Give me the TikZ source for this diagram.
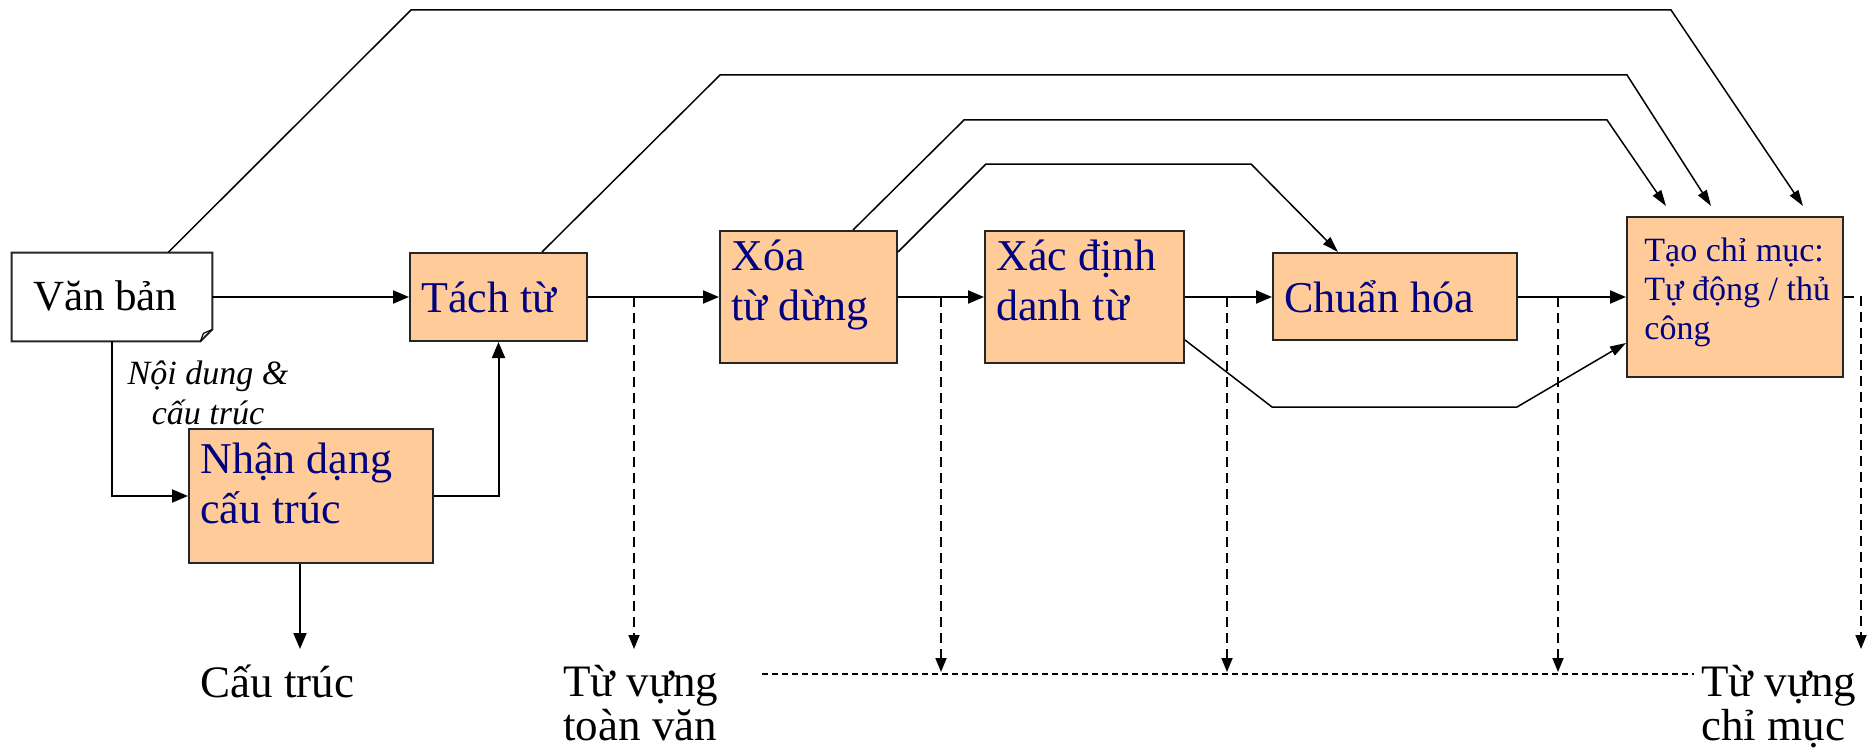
\documentclass[tikz,border=0pt]{standalone}
\usepackage{fontspec}
\setmainfont{Liberation Serif}
\usetikzlibrary{calc,positioning,arrows.meta}
\definecolor{procfill}{HTML}{FFCC99}
\definecolor{procnavy}{HTML}{000080}

\tikzset{
  procbox/.style={draw=black!85, line width=1pt, fill=procfill, inner sep=0pt},
  proctext/.style={anchor=north west, align=left, inner sep=0pt, text=procnavy,
    font=\fontsize{22}{25}\selectfont},
  outlabel/.style={anchor=north west, align=left, inner sep=0pt,
    font=\fontsize{22.5}{22}\selectfont},
  flow/.style={line width=1pt, -{Triangle[length=8pt,width=6.5pt]}},
  longflow/.style={line width=0.75pt, -{Triangle[length=8pt,width=5pt]}},
  tapline/.style={line width=0.9pt, dash pattern=on 5pt off 3pt,
    -{Triangle[length=7pt,width=5.5pt]}},
  busline/.style={line width=0.7pt, dash pattern=on 3pt off 2pt},
}

\begin{document}
\begin{tikzpicture}[x=0.5pt, y=-0.5pt]
  \useasboundingbox (0,0) rectangle (1868,749);

  % input document
  \node[minimum width=100pt, minimum height=44pt, inner sep=0pt] (vanban) at (112,297) {};
  \draw[line width=1pt, draw=black!85, fill=white] (vanban.north west) -- (vanban.north east)
    -- ($(vanban.south east)+(0,-12)$) -- ($(vanban.south east)+(-12,0)$)
    -- (vanban.south west) -- cycle;
  \draw[line width=0.6pt] ($(vanban.south east)+(-12,0)$) -- ($(vanban.south east)+(-9,-8)$)
    -- ($(vanban.south east)+(0,-12)$);
  \node[anchor=base west, inner sep=0pt, font=\fontsize{21.5}{25}\selectfont]
    (vanbanlbl) at ($(vanban.west)+(21,13)$) {Văn bản};

  % processing steps
  \node[procbox, minimum width=88.5pt, minimum height=44pt] (tach) at (498.5,297) {};
  \node[procbox, minimum width=122pt, minimum height=67pt] (nhandang) at (311,496) {};
  \node[procbox, minimum width=88.5pt, minimum height=66pt] (xoa) at (808.5,297) {};
  \node[procbox, minimum width=99.5pt, minimum height=66pt] (xacdinh) at (1084.5,297) {};
  \node[procbox, minimum width=122pt, minimum height=43.5pt] (chuan) at (1395,296.5) {};
  \node[procbox, minimum width=108pt, minimum height=80pt] (taochi) at (1735,297) {};

  \node[proctext, anchor=base west] (tachlbl) at ($(tach.west)+(12,15)$) {Tách từ};
  \node[proctext] (nhandanglbl) at ($(nhandang.north west)+(12,14)$) {Nhận dạng\\cấu trúc};
  \node[proctext] (xoalbl) at ($(xoa.north west)+(12,10)$) {Xóa\\từ dừng};
  \node[proctext] (xacdinhlbl) at ($(xacdinh.north west)+(12,10)$) {Xác định\\danh từ};
  \node[proctext, anchor=base west] (chuanlbl) at ($(chuan.west)+(12,15.5)$) {Chuẩn hóa};
  \node[proctext, font=\fontsize{17}{19.5}\selectfont] (taochilbl)
    at ($(taochi.north west)+(18,22)$) {Tạo chỉ mục:\\Tự động / thủ\\công};

  \node[align=center, inner sep=0pt, font=\itshape\fontsize{17}{20}\selectfont]
    (noidung) at (208,393) {Nội dung \&\\cấu trúc};

  % outputs
  \node[outlabel] (cautruc) at (200,665) {Cấu trúc};
  \node[outlabel] (toanvan) at (563,665) {Từ vựng\\toàn văn};
  \node[outlabel] (chimuc) at (1701,665) {Từ vựng\\chỉ mục};

  % main flow
  \draw[flow] (vanban.east) -- (tach.west);
  \draw[flow] (tach) -- (xoa);
  \draw[flow] (xoa) -- (xacdinh);
  \draw[flow] (xacdinh.east) -- (xacdinh.east -| chuan.west);
  \draw[flow] (chuan.east |- taochi.west) -- (taochi.west);
  \draw[flow] (vanban.south) |- (nhandang.west);
  \draw[flow] (nhandang.east) -| (tach.south);
  \coordinate (cauend) at (300,649);
  \draw[flow] (nhandang.south -| cauend) -- (cauend);

  % bypass lines
  \draw[longflow] (vanban.north -| 168,0) -- (411,10) -- (1671,10)
    -- ($(taochi.north)+(68,-10)$);
  \draw[longflow] (tach.north -| 542,0) -- (720,75) -- (1627,75)
    -- ($(taochi.north)+(-24,-10)$);
  \draw[longflow] (xoa.north -| 853,0) -- (964,120) -- (1607,120)
    -- ($(taochi.north)+(-69,-10)$);
  \draw[longflow] (xoa.east |- 0,252) -- (986,164) -- (1251,164) -- (chuan.north -| 1338,0);
  \draw[longflow] (xacdinh.east |- 0,340) -- (1272,407) -- (1517,407)
    -- (taochi.west |- 0,343);

  % vocabulary taps
  \coordinate (tap1) at (634,297);
  \coordinate (tap2) at (941,297);
  \coordinate (tap3) at (1227,297);
  \coordinate (tap4) at (1558,297);
  \coordinate (bus1) at (762,674);
  \coordinate (bus2) at (1694,674);
  \coordinate (fulltip) at (634,649);
  \coordinate (idxtip) at (1861,649);
  \draw[tapline] (tap1) -- (fulltip);
  \foreach \t in {tap2,tap3,tap4}
    \draw[tapline] (\t) -- ($(\t |- bus1)+(0,-2)$);
  \draw[busline] (bus1) -- (bus2);
  \draw[tapline] (taochi.east) -| (idxtip);
\end{tikzpicture}
\end{document}
